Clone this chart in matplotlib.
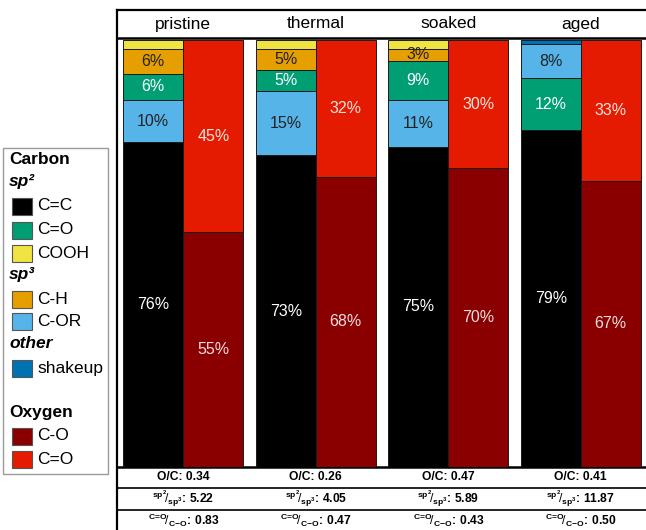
import matplotlib
matplotlib.use("Agg")
import matplotlib.pyplot as plt
from matplotlib.patches import Rectangle

plt.rcParams["font.family"] = ["Liberation Sans", "DejaVu Sans"]
plt.rcParams["mathtext.fontset"] = "custom"
plt.rcParams["mathtext.rm"] = "Liberation Sans"
plt.rcParams["mathtext.bf"] = "Liberation Sans:bold"
plt.rcParams["mathtext.it"] = "Liberation Sans:italic"

# ---- data -------------------------------------------------------------
samples = ["pristine", "thermal", "soaked", "aged"]

carbon_names = ["C=C", "C-OR", "C=O", "C-H", "COOH", "shakeup"]
c_cc = [76, 73, 75, 79]
c_cor = [10, 15, 11, 8]
c_co = [6, 5, 9, 12]
c_ch = [6, 5, 3, 0]
c_cooh = [2, 2, 2, 0]
c_shakeup = [0, 0, 0, 1]

o_co = [55, 68, 70, 67]      # oxygen C-O
o_cdo = [45, 32, 30, 33]     # oxygen C=O

ratio_oc = ["0.34", "0.26", "0.47", "0.41"]
ratio_sp = ["5.22", "4.05", "5.89", "11.87"]
ratio_cdo_co = ["0.83", "0.47", "0.43", "0.50"]

# ---- colours ----------------------------------------------------------
carbon_colors = {
    "C=C": "#000000",
    "C=O": "#009E73",
    "COOH": "#F0E442",
    "C-H": "#E69F00",
    "C-OR": "#56B4E9",
    "shakeup": "#0072B2",
}
carbon_text = {
    "C=C": "white", "C=O": "white", "COOH": "#222222",
    "C-H": "#222222", "C-OR": "#222222", "shakeup": "white",
}
ox_colors = {"C-O": "#8A0000", "C=O": "#E41B00"}

W, H = 646, 530
fig = plt.figure(figsize=(W / 100, H / 100), dpi=100)


def fx(px):
    return px / W


def fy(py):
    return 1 - py / H


# ---- frame with header and ratio rows ---------------------------------
left_px, right_px = 117, 647
frame = fig.add_axes([fx(left_px), fy(540), fx(right_px) - fx(left_px), fy(10) - fy(540)])
frame.set_xlim(-0.5, len(samples) - 0.5)
frame.set_ylim(540, 10)
frame.set_xticks([])
frame.set_yticks([])
for s in ("right", "bottom"):
    frame.spines[s].set_visible(False)
for s in ("left", "top"):
    frame.spines[s].set_linewidth(1.6)
for yline, lw in ((37.5, 1.8), (467, 1.8), (488, 1.2), (510, 1.2)):
    frame.axhline(yline, color="black", lw=lw)

for i, name in enumerate(samples):
    frame.text(i, 24, name, ha="center", va="center", fontsize=12.5)
    frame.text(i, 477.5, f"O/C: {ratio_oc[i]}", ha="center", va="center",
               fontsize=8.7, fontweight="bold")
    frame.text(i, 499, r"$^{\mathbf{sp^2}}\!/_{\mathbf{sp^3}}$" + f": {ratio_sp[i]}",
               ha="center", va="center", fontsize=8.7, fontweight="bold")
    frame.text(i, 520, r"$^{\mathbf{C\!=\!O}}\!/_{\mathbf{C\!-\!O}}$" + f": {ratio_cdo_co[i]}",
               ha="center", va="center", fontsize=8.7, fontweight="bold")

# ---- stacked bars -----------------------------------------------------
ax = fig.add_axes([fx(left_px), fy(467), fx(right_px) - fx(left_px), fy(38) - fy(467)])
ax.patch.set_alpha(0)
ax.set_xlim(-0.5, len(samples) - 0.5)
ax.set_ylim(0, 100 * (467 - 38) / (467 - 40))
ax.axis("off")

bw = 0.453
pct_size = 11.5
carbon_series = [c_cc, c_cor, c_co, c_ch, c_cooh, c_shakeup]
for i in range(len(samples)):
    vals = [(carbon_names[k], carbon_series[k][i]) for k in range(len(carbon_names))]
    vals = sorted(vals, key=lambda t: -t[1])
    bottom = 0
    xc = i - bw / 2
    for name, v in vals:
        if v <= 0:
            continue
        ax.bar(xc, v, bw, bottom=bottom, color=carbon_colors[name],
               edgecolor="#1a1a1a", linewidth=0.7)
        if v >= 3:
            ax.text(xc, bottom + v / 2, f"{v}%", ha="center", va="center",
                    fontsize=pct_size, color=carbon_text[name])
        bottom += v

    xo = i + bw / 2
    ax.bar(xo, o_co[i], bw, bottom=0, color=ox_colors["C-O"],
           edgecolor="#1a1a1a", linewidth=0.7)
    ax.text(xo, o_co[i] / 2, f"{o_co[i]}%", ha="center", va="center",
            fontsize=pct_size, color="#f2dede")
    ax.bar(xo, o_cdo[i], bw, bottom=o_co[i], color=ox_colors["C=O"],
           edgecolor="#1a1a1a", linewidth=0.7)
    ax.text(xo, o_co[i] + o_cdo[i] / 2, f"{o_cdo[i]}%", ha="center", va="center",
            fontsize=pct_size, color="#fbe3df")

# ---- legend box -------------------------------------------------------
fig.patches.append(Rectangle((fx(3), fy(474)), fx(108) - fx(3), fy(148) - fy(474),
                             transform=fig.transFigure, facecolor="white",
                             edgecolor="#9a9a9a", linewidth=1.0))

legend_rows = [
    ("head", "Carbon", 160, {"fontweight": "bold"}),
    ("head", "sp²", 182, {"fontweight": "bold", "fontstyle": "italic"}),
    ("item", "C=C", 206, carbon_colors["C=C"]),
    ("item", "C=O", 230, carbon_colors["C=O"]),
    ("item", "COOH", 253, carbon_colors["COOH"]),
    ("head", "sp³", 275, {"fontweight": "bold", "fontstyle": "italic"}),
    ("item", "C-H", 299, carbon_colors["C-H"]),
    ("item", "C-OR", 321, carbon_colors["C-OR"]),
    ("head", "other", 344, {"fontweight": "bold", "fontstyle": "italic"}),
    ("item", "shakeup", 368, carbon_colors["shakeup"]),
    ("head", "Oxygen", 413, {"fontweight": "bold"}),
    ("item", "C-O", 436, ox_colors["C-O"]),
    ("item", "C=O", 459, ox_colors["C=O"]),
]
for kind, label, ypx, extra in legend_rows:
    if kind == "head":
        fig.text(fx(9), fy(ypx), label, ha="left", va="center", fontsize=12.5, **extra)
    else:
        fig.patches.append(Rectangle((fx(12), fy(ypx + 8.5)), fx(32) - fx(12), 17 / H,
                                     transform=fig.transFigure, facecolor=extra,
                                     edgecolor="#555555", linewidth=0.8))
        fig.text(fx(37), fy(ypx), label, ha="left", va="center", fontsize=12.5)

fig.savefig("out.png", dpi=100)
